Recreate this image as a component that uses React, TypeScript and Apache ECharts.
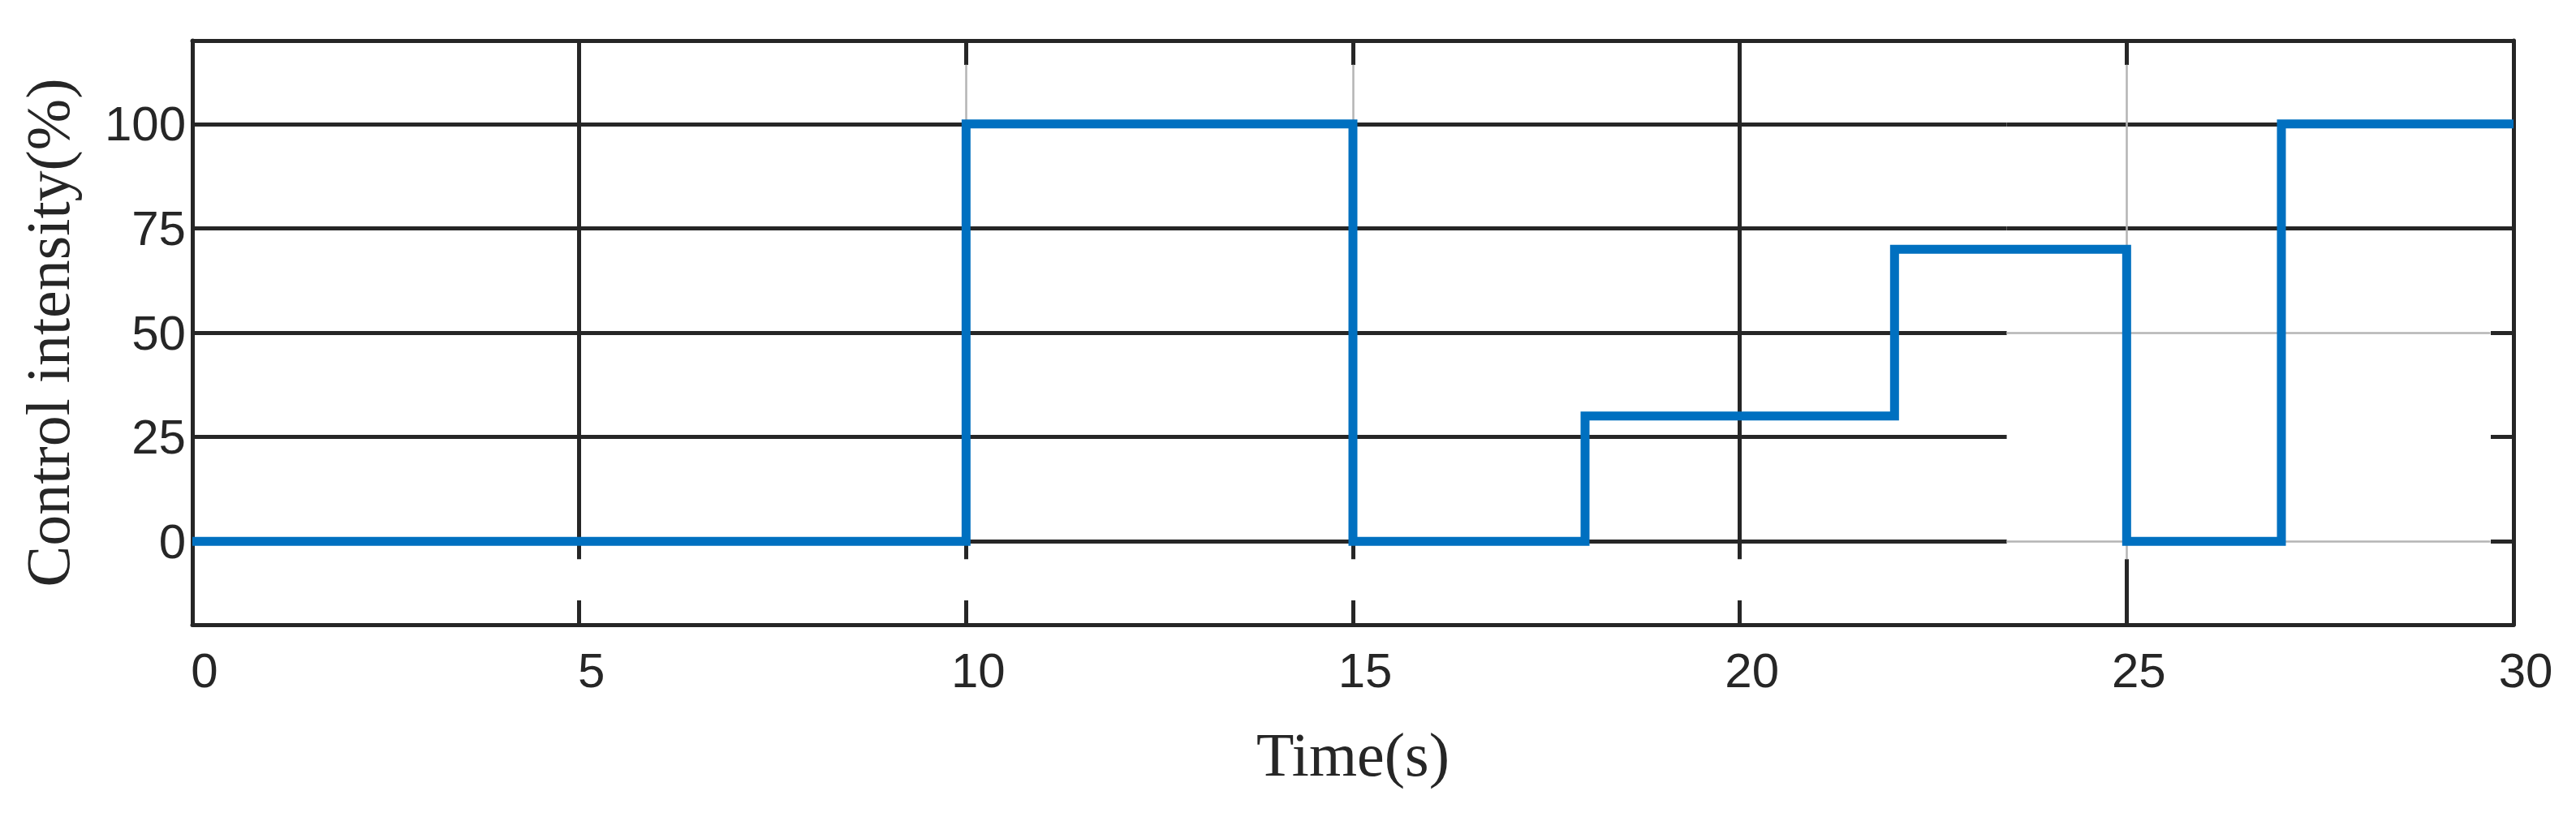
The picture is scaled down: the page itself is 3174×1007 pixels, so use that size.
import React, { useEffect, useRef } from "react";
import * as echarts from "echarts";

// ---- data ----
const stepTimes = [0, 10, 15, 18, 22, 25, 27, 30];
const stepValues = [0, 100, 0, 30, 70, 0, 100, 100];
const xTicks = [0, 5, 10, 15, 20, 25, 30];
const yTicks = [0, 25, 50, 75, 100];
const xRange = [0, 30];
const yRange = [-20, 120];
// grid-line pieces as they appear in the picture
const hGridBreakX = 23.45;
const hGridRightDark = [75, 100];
const hGridRightLight = [0, 50];
const hGridLightEndX = 29.7;
const vGridDark = [5, 20];
const vGridLight = [10, 15, 25];
const vGridLightTopY = 114.2;
const vGridCutY = -4.3;

const DARK = "#262626";
const LIGHT = "#b4b4b4";
const BLUE = "#0070c0";

export default function App() {
  const ref = useRef<HTMLDivElement>(null);
  useEffect(() => {
    document.body.style.margin = "0";
    const chart = echarts.init(ref.current!, undefined, { renderer: "svg" });
    const seg = (a: number[], b: number[], color: string, width: number) => [
      { coord: a, lineStyle: { color, width, type: "solid" } },
      { coord: b },
    ];
    const W = 5;
    const gridLines: any[] = [];
    yTicks.forEach((y) => gridLines.push(seg([xRange[0], y], [hGridBreakX, y], DARK, W)));
    hGridRightDark.forEach((y) => gridLines.push(seg([hGridBreakX, y], [xRange[1], y], DARK, W)));
    hGridRightLight.forEach((y) =>
      gridLines.push(seg([hGridBreakX, y], [hGridLightEndX, y], LIGHT, 2.5))
    );
    vGridDark.forEach((x) => gridLines.push(seg([x, vGridCutY], [x, yRange[1]], DARK, W)));
    vGridLight.forEach((x) =>
      gridLines.push(seg([x, x === 25 ? vGridCutY : 0], [x, vGridLightTopY], LIGHT, 2.5))
    );
    [10, 15].forEach((x) => gridLines.push(seg([x, vGridCutY], [x, 0], DARK, W)));
    gridLines.push(seg([25, yRange[0]], [25, vGridCutY], DARK, W));

    const tickStyle = { show: true, inside: true, length: 30, lineStyle: { color: DARK, width: W } };
    const axisLineStyle = { show: true, onZero: false, lineStyle: { color: DARK, width: W } };

    chart.setOption({
      animation: false,
      backgroundColor: "#ffffff",
      grid: { left: 237, right: 77, top: 50, bottom: 237 },
      xAxis: [
        {
          type: "value",
          min: xRange[0],
          max: xRange[1],
          interval: 5,
          position: "bottom",
          name: "Time(s)",
          nameLocation: "middle",
          nameGap: 122,
          nameTextStyle: { fontFamily: "Liberation Serif", fontSize: 76, color: DARK },
          axisLine: axisLineStyle,
          axisTick: tickStyle,
          splitLine: { show: false },
          axisLabel: {
            customValues: xTicks,
            fontFamily: "Liberation Sans, Arial",
            fontSize: 60,
            color: DARK,
            margin: 26,
            padding: [0, 0, 0, 30],
          },
        },
        {
          type: "value",
          min: xRange[0],
          max: xRange[1],
          interval: 5,
          position: "top",
          axisLine: axisLineStyle,
          axisTick: tickStyle,
          axisLabel: { show: false },
          splitLine: { show: false },
        },
      ],
      yAxis: [
        {
          type: "value",
          min: yRange[0],
          max: yRange[1],
          position: "left",
          name: "Control intensity(%)",
          nameLocation: "middle",
          nameGap: 140,
          nameTextStyle: { fontFamily: "Liberation Serif", fontSize: 76, color: DARK },
          axisLine: axisLineStyle,
          axisTick: { ...tickStyle, length: 28, customValues: yTicks },
          splitLine: { show: false },
          axisLabel: {
            customValues: yTicks,
            fontFamily: "Liberation Sans, Arial",
            fontSize: 60,
            color: DARK,
            margin: 8,
            padding: [20, 0, 0, 0],
          },
        },
        {
          type: "value",
          min: yRange[0],
          max: yRange[1],
          position: "right",
          axisLine: axisLineStyle,
          axisTick: { ...tickStyle, length: 28, customValues: yTicks },
          axisLabel: { show: false },
          splitLine: { show: false },
        },
      ],
      series: [
        {
          type: "line",
          data: [],
          z: 1,
          silent: true,
          markLine: {
            silent: true,
            symbol: ["none", "none"],
            label: { show: false },
            animation: false,
            data: gridLines,
          },
        },
        {
          type: "line",
          step: "end",
          z: 5,
          symbol: "none",
          lineStyle: { color: BLUE, width: 11, join: "miter" },
          data: stepTimes.map((t, i) => [t, stepValues[i]]),
        },
      ],
    });
    return () => chart.dispose();
  }, []);
  return <div ref={ref} style={{ width: 3174, height: 1007 }} />;
}
